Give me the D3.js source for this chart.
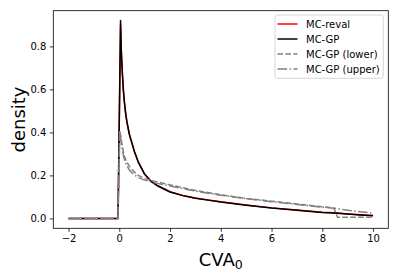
<!DOCTYPE html>
<html>
<head>
<meta charset="utf-8">
<script src="https://cdn.jsdelivr.net/npm/d3@7"></script>
<style>
  body { margin: 0; background: #fff; }
  svg text { font-family: "DejaVu Sans", sans-serif; fill: #000; }
</style>
</head>
<body>
<svg id="chart" width="398" height="277"></svg>
<script>
// x grid shared by all series
const xs = [-2, -1, -0.05, 0.02, 0.05, 0.08, 0.12, 0.16, 0.2, 0.25, 0.3, 0.4, 0.5, 0.6, 0.75, 1.0, 1.25, 1.5, 2, 2.5, 3, 3.5, 4, 5, 6, 7, 8, 8.45, 8.6, 9, 9.5, 10];

const reval = [0, 0, 0, 0.63, 0.90, 0.77, 0.675, 0.595, 0.54, 0.487, 0.448, 0.389, 0.349, 0.309, 0.262, 0.206, 0.173, 0.153, 0.124, 0.107, 0.095, 0.086, 0.077, 0.062, 0.049, 0.039, 0.029, 0.026, 0.025, 0.021, 0.017, 0.014];
const gp = [0, 0, 0, 0.644, 0.92, 0.78, 0.68, 0.60, 0.545, 0.49, 0.45, 0.39, 0.35, 0.31, 0.262, 0.205, 0.172, 0.152, 0.123, 0.106, 0.094, 0.085, 0.076, 0.061, 0.048, 0.038, 0.028, 0.025, 0.024, 0.02, 0.016, 0.012];
const gpLower = [0, 0, 0, 0.40, 0.39, 0.365, 0.335, 0.31, 0.29, 0.275, 0.262, 0.242, 0.228, 0.215, 0.20, 0.185, 0.177, 0.17, 0.156, 0.143, 0.13, 0.12, 0.11, 0.093, 0.08, 0.067, 0.054, 0.049, 0.005, 0.005, 0.005, 0.006];
const gpUpper = [0, 0, 0, 0.41, 0.38, 0.35, 0.32, 0.295, 0.275, 0.258, 0.245, 0.225, 0.212, 0.202, 0.19, 0.178, 0.17, 0.163, 0.151, 0.139, 0.127, 0.117, 0.108, 0.092, 0.078, 0.065, 0.052, 0.047, 0.045, 0.038, 0.031, 0.024];

const xTicks = [-2, 0, 2, 4, 6, 8, 10];
const yTicks = [0, 0.2, 0.4, 0.6, 0.8];

const series = [
  { name: "MC-reval", ys: reval, color: "#ff0000", dash: null },
  { name: "MC-GP", ys: gp, color: "#000000", dash: null },
  { name: "MC-GP (lower)", ys: gpLower, color: "#808080", dash: "5.55,2.4" },
  { name: "MC-GP (upper)", ys: gpUpper, color: "#808080", dash: "9.6,2.4,1.5,2.4" }
];

const svg = d3.select("#chart");
const L = 53.3, R = 388.3, T = 10.7, B = 228.3;

const xmin = d3.min(xs), xmax = d3.max(xs);
const ymax = d3.max(series, s => d3.max(s.ys)), ymin = 0;
const x = d3.scaleLinear()
  .domain([xmin - 0.05 * (xmax - xmin), xmax + 0.05 * (xmax - xmin)])
  .range([L, R]);
const y = d3.scaleLinear()
  .domain([ymin - 0.05 * (ymax - ymin), ymax + 0.05 * (ymax - ymin)])
  .range([B, T]);

const fmtX = d => (d < 0 ? "\u2212" + Math.abs(d) : String(d));

// axes
const xAxis = svg.append("g").attr("transform", `translate(0,${B})`)
  .call(d3.axisBottom(x).tickValues(xTicks).tickSize(3.5).tickPadding(3.5).tickFormat(fmtX));
const yAxis = svg.append("g").attr("transform", `translate(${L},0)`)
  .call(d3.axisLeft(y).tickValues(yTicks).tickSize(3.5).tickPadding(3.5).tickFormat(d3.format(".1f")));
[xAxis, yAxis].forEach(a => {
  a.select(".domain").remove();
  a.selectAll(".tick line").attr("stroke", "#000").attr("stroke-width", 0.8);
  a.selectAll(".tick text").attr("font-size", 10).attr("font-family", "DejaVu Sans");
});

// lines
const plot = svg.append("g");
series.forEach(s => {
  const line = d3.line().x((d, i) => x(xs[i])).y(d => y(d));
  plot.append("path")
    .datum(s.ys)
    .attr("d", line)
    .attr("fill", "none")
    .attr("stroke", s.color)
    .attr("stroke-width", 1.5)
    .attr("stroke-linejoin", "round")
    .attr("stroke-dasharray", s.dash);
});

// frame
svg.append("rect")
  .attr("x", L).attr("y", T).attr("width", R - L).attr("height", B - T)
  .attr("fill", "none").attr("stroke", "#000").attr("stroke-width", 0.8);

// axis labels
const xl = svg.append("text").attr("x", (L + R) / 2).attr("y", 266).attr("text-anchor", "middle").attr("font-size", 18);
xl.append("tspan").text("CVA");
xl.append("tspan").attr("font-size", 12.6).attr("dy", 3).text("0");
svg.append("text")
  .attr("transform", `translate(25,${(T + B) / 2}) rotate(-90)`)
  .attr("text-anchor", "middle").attr("font-size", 18).text("density");

// legend
const lg = svg.append("g").attr("transform", "translate(275,15)");
lg.append("rect").attr("width", 108.3).attr("height", 63.3).attr("rx", 2.5)
  .attr("fill", "#fff").attr("fill-opacity", 0.8).attr("stroke", "#ccc").attr("stroke-width", 0.8);
series.forEach((s, i) => {
  const yy = 9 + i * 15;
  lg.append("line").attr("x1", 2.5).attr("x2", 22.5).attr("y1", yy).attr("y2", yy)
    .attr("stroke", s.color).attr("stroke-width", 1.5).attr("stroke-dasharray", s.dash);
  lg.append("text").attr("x", 31).attr("y", yy + 3.6).attr("font-size", 10).text(s.name);
});
</script>
</body>
</html>
